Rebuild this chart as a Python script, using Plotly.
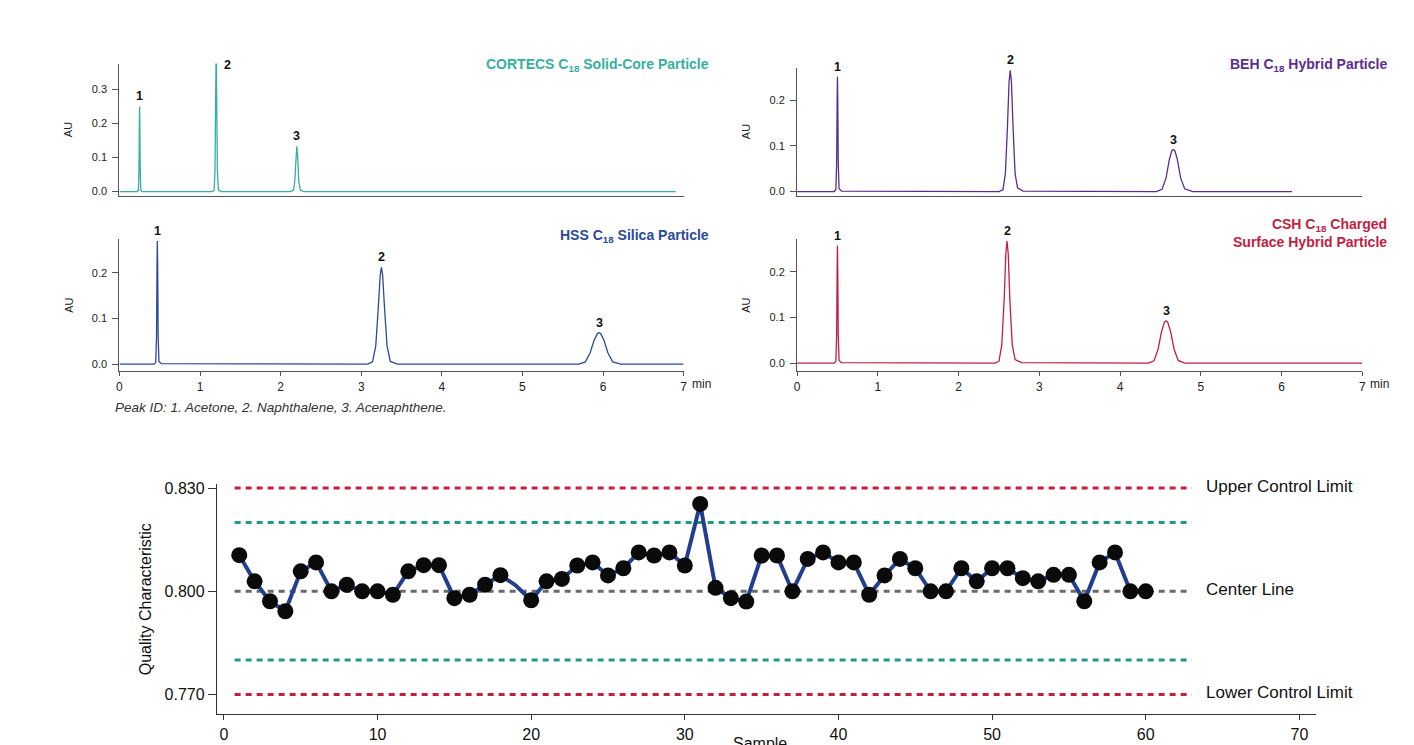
import plotly.graph_objects as go

# ---------------- DATA ----------------
# Chromatograms (time in min, absorbance in AU)
cortecs_t = [0.0, 0.22, 0.235, 0.242, 0.247, 0.25, 0.253, 0.258, 0.265, 0.28,
             1.15, 1.175, 1.185, 1.193, 1.2, 1.207, 1.215, 1.228, 1.26,
             2.12, 2.16, 2.175, 2.188, 2.2, 2.212, 2.225, 2.245, 2.29, 6.9]
cortecs_au = [0.0, 0.0, 0.004, 0.06, 0.2, 0.25, 0.2, 0.06, 0.004, 0.0,
              0.0, 0.004, 0.06, 0.26, 0.42, 0.26, 0.06, 0.004, 0.0,
              0.0, 0.004, 0.03, 0.1, 0.133, 0.1, 0.03, 0.004, 0.0, 0.0]

beh_t = [0.0, 0.46, 0.48, 0.49, 0.496, 0.5, 0.504, 0.51, 0.52, 0.55,
         2.5, 2.55, 2.58, 2.605, 2.625, 2.64, 2.655, 2.675, 2.7, 2.73, 2.8,
         4.45, 4.52, 4.57, 4.61, 4.64, 4.66, 4.68, 4.71, 4.75, 4.8, 4.9, 6.13]
beh_au = [0.0, 0.0, 0.004, 0.06, 0.2, 0.252, 0.2, 0.06, 0.006, 0.001,
          0.0, 0.004, 0.04, 0.14, 0.24, 0.266, 0.24, 0.14, 0.04, 0.008, 0.001,
          0.0, 0.005, 0.03, 0.07, 0.089, 0.092, 0.089, 0.07, 0.03, 0.006, 0.0, 0.0]

hss_t = [0.0, 0.43, 0.45, 0.46, 0.466, 0.47, 0.474, 0.48, 0.49, 0.52,
         3.08, 3.14, 3.18, 3.21, 3.235, 3.25, 3.265, 3.29, 3.32, 3.36, 3.45,
         5.7, 5.78, 5.84, 5.89, 5.93, 5.95, 5.97, 6.01, 6.06, 6.12, 6.22, 7.0]
hss_au = [0.0, 0.0, 0.004, 0.06, 0.22, 0.27, 0.22, 0.06, 0.006, 0.001,
          0.0, 0.005, 0.04, 0.12, 0.195, 0.212, 0.195, 0.12, 0.04, 0.006, 0.0,
          0.0, 0.005, 0.025, 0.053, 0.067, 0.069, 0.067, 0.053, 0.025, 0.005, 0.0, 0.0]

csh_t = [0.0, 0.46, 0.48, 0.49, 0.496, 0.5, 0.504, 0.51, 0.52, 0.55,
         2.45, 2.5, 2.535, 2.565, 2.585, 2.6, 2.615, 2.635, 2.665, 2.7, 2.78,
         4.35, 4.42, 4.47, 4.515, 4.55, 4.57, 4.59, 4.625, 4.67, 4.72, 4.8, 7.0]
csh_au = [0.0, 0.0, 0.004, 0.06, 0.2, 0.258, 0.2, 0.06, 0.006, 0.001,
          0.0, 0.004, 0.04, 0.14, 0.24, 0.268, 0.24, 0.14, 0.04, 0.008, 0.001,
          0.0, 0.005, 0.03, 0.07, 0.09, 0.093, 0.09, 0.07, 0.03, 0.006, 0.0, 0.0]

peak_names = ["1", "2", "3"]
cortecs_peak_t = [0.25, 1.2, 2.2]
cortecs_peak_h = [0.25, 0.42, 0.133]
beh_peak_t = [0.5, 2.64, 4.66]
beh_peak_h = [0.252, 0.266, 0.092]
hss_peak_t = [0.47, 3.25, 5.95]
hss_peak_h = [0.27, 0.212, 0.069]
csh_peak_t = [0.5, 2.6, 4.57]
csh_peak_h = [0.258, 0.268, 0.093]

time_ticks = [0, 1, 2, 3, 4, 5, 6, 7]

# Control chart
samples = list(range(1, 61))
quality = [0.8105, 0.8029, 0.7971, 0.7942, 0.8058, 0.8084, 0.8000, 0.8019, 0.8000, 0.8000,
           0.7990, 0.8058, 0.8076, 0.8076, 0.7980, 0.7990, 0.8019, 0.8047, 0.8017, 0.7974,
           0.8029, 0.8036, 0.8075, 0.8084, 0.8046, 0.8067, 0.8113, 0.8104, 0.8113, 0.8075,
           0.8254, 0.8010, 0.7980, 0.7970, 0.8104, 0.8104, 0.8000, 0.8094, 0.8113, 0.8084,
           0.8084, 0.7990, 0.8046, 0.8094, 0.8067, 0.8000, 0.8000, 0.8067, 0.8029, 0.8067,
           0.8067, 0.8038, 0.8029, 0.8048, 0.8048, 0.7971, 0.8084, 0.8113, 0.8000, 0.8000]
marker_shown = [1] * 18 + [0] + [1] * 41
limit_names = ["Upper Control Limit", "", "Center Line", "", "Lower Control Limit"]
limit_values = [0.830, 0.820, 0.800, 0.780, 0.770]
limit_span = [0.7, 63.0]
control_y_ticks = [0.770, 0.800, 0.830]
control_x_ticks = [0, 10, 20, 30, 40, 50, 60, 70]

# ---------------- STYLE ----------------
FONT = "Liberation Sans, Arial, sans-serif"
C_CORTECS = "#35B09C"
C_BEH = "#5B2D8E"
C_HSS = "#2A4A98"
C_CSH = "#C21D44"
C_RED = "#C41E3A"
C_TEAL = "#1F9A88"
C_GRAY = "#6A6A6A"
C_LINE = "#213F8E"
AXIS = "#555555"

W, H = 1414, 745
OFF_X, OFF_Y = 7, 8  # page body margin


def px_x(p):
    return (p - OFF_X) / W


def px_y(p):
    return 1 - (p - OFF_Y) / H


fig = go.Figure()

panels = [
    dict(t=cortecs_t, au=cortecs_au, color=C_CORTECS, pt=cortecs_peak_t, ph=cortecs_peak_h,
         xa="x", ya="y", xd=(116, 683), yd=(60, 193), yr=(-0.0117, 0.376), yt=[0.0, 0.1, 0.2, 0.3],
         xl=False, title="CORTECS C<sub>18</sub> Solid-Core Particle", tx=710, ty=61),
    dict(t=beh_t, au=beh_au, color=C_BEH, pt=beh_peak_t, ph=beh_peak_h,
         xa="x2", ya="y2", xd=(797, 1365), yd=(64, 193), yr=(-0.0087, 0.272), yt=[0.0, 0.1, 0.2],
         xl=False, title="BEH C<sub>18</sub> Hybrid Particle", tx=1392, ty=61),
    dict(t=hss_t, au=hss_au, color=C_HSS, pt=hss_peak_t, ph=hss_peak_h,
         xa="x3", ya="y3", xd=(116, 683), yd=(237, 370), yr=(-0.0152, 0.274), yt=[0.0, 0.1, 0.2],
         xl=True, title="HSS C<sub>18</sub> Silica Particle", tx=710, ty=234),
    dict(t=csh_t, au=csh_au, color=C_CSH, pt=csh_peak_t, ph=csh_peak_h,
         xa="x4", ya="y4", xd=(797, 1365), yd=(237, 370), yr=(-0.0174, 0.272), yt=[0.0, 0.1, 0.2],
         xl=True, title="CSH C<sub>18</sub> Charged<br>Surface Hybrid Particle", tx=1392, ty=231),
]

annotations = []
layout_axes = {}
for i, p in enumerate(panels):
    fig.add_trace(go.Scatter(x=p["t"], y=p["au"], mode="lines", xaxis=p["xa"], yaxis=p["ya"],
                             line=dict(color=p["color"], width=1.3), showlegend=False,
                             hoverinfo="skip"))
    sfx = "" if i == 0 else str(i + 1)
    layout_axes["xaxis" + sfx] = dict(
        domain=[px_x(p["xd"][0]), px_x(p["xd"][1])], range=[0, 7], anchor=p["ya"],
        showgrid=False, zeroline=False, showline=True, linecolor=AXIS, linewidth=1.2,
        ticks="outside" if p["xl"] else "", ticklen=4, tickcolor=AXIS,
        tickvals=time_ticks if p["xl"] else [], showticklabels=p["xl"],
        tickfont=dict(family=FONT, size=12, color="#222"), fixedrange=True)
    layout_axes["yaxis" + sfx] = dict(
        domain=[px_y(p["yd"][1]), px_y(p["yd"][0])], range=list(p["yr"]), anchor=p["xa"],
        showgrid=False, zeroline=False, showline=True, linecolor=AXIS, linewidth=1.2,
        ticks="outside", ticklen=6, tickcolor=AXIS, tickvals=p["yt"], tickformat=".1f",
        ticklabelstandoff=3,
        tickfont=dict(family=FONT, size=11, color="#222"),
        title=dict(text="AU", font=dict(family=FONT, size=11, color="#222"), standoff=16),
        fixedrange=True)
    # peak labels
    top = p["yr"][1]
    for name, t, h in zip(peak_names, p["pt"], p["ph"]):
        if h > top:
            annotations.append(dict(x=t, y=top, xref=p["xa"], yref=p["ya"], text="<b>%s</b>" % name,
                                    showarrow=False, xanchor="left", yanchor="top", xshift=6, yshift=8,
                                    font=dict(family=FONT, size=12.5, color="#111")))
        else:
            annotations.append(dict(x=t, y=h, xref=p["xa"], yref=p["ya"], text="<b>%s</b>" % name,
                                    showarrow=False, xanchor="center", yanchor="bottom", yshift=1,
                                    font=dict(family=FONT, size=12.5, color="#111")))
    # title
    annotations.append(dict(x=px_x(p["tx"]), y=px_y(p["ty"]), xref="paper", yref="paper",
                            text="<b>%s</b>" % p["title"], showarrow=False, xanchor="right",
                            yanchor="middle", align="right",
                            font=dict(family=FONT, size=14, color=p["color"])))
    if p["xl"]:
        annotations.append(dict(x=7, y=p["yr"][0], xref=p["xa"], yref=p["ya"], text="min",
                                showarrow=False, xanchor="left", yanchor="top", xshift=6, yshift=-4,
                                font=dict(family=FONT, size=12, color="#222")))

annotations.append(dict(x=px_x(110), y=px_y(407), xref="paper", yref="paper",
                        text="<i>Peak ID: 1. Acetone, 2. Naphthalene, 3. Acenaphthene.</i>",
                        showarrow=False, xanchor="left", yanchor="middle",
                        font=dict(family=FONT, size=13.5, color="#333")))

# ---------------- CONTROL CHART ----------------
limit_colors = [C_RED, C_TEAL, C_GRAY, C_TEAL, C_RED]
for name, v, c in zip(limit_names, limit_values, limit_colors):
    fig.add_trace(go.Scatter(x=limit_span, y=[v, v], mode="lines", xaxis="x5", yaxis="y5",
                             line=dict(color=c, width=3, dash="6px,5px"), showlegend=False,
                             hoverinfo="skip"))
    if name:
        annotations.append(dict(x=limit_span[1], y=v, xref="x5", yref="y5", text=name,
                                showarrow=False, xanchor="left", yanchor="middle", xshift=12, yshift=2,
                                font=dict(family=FONT, size=17, color="#111")))

fig.add_trace(go.Scatter(x=samples, y=quality, mode="lines", xaxis="x5", yaxis="y5",
                         line=dict(color=C_LINE, width=4), showlegend=False, hoverinfo="skip"))
fig.add_trace(go.Scatter(x=samples, y=quality, mode="markers", xaxis="x5", yaxis="y5",
                         marker=dict(color="#0a0a0a", size=16, opacity=marker_shown,
                                     line=dict(width=0)),
                         showlegend=False, hoverinfo="skip"))

layout_axes["xaxis5"] = dict(
    domain=[px_x(214), px_x(1318)], range=[-0.45, 71.05], anchor="y5",
    showgrid=False, zeroline=False, showline=True, linecolor="#333", linewidth=1.3,
    ticks="outside", ticklen=5, tickcolor="#333", tickvals=control_x_ticks,
    tickfont=dict(family=FONT, size=16, color="#111"), fixedrange=True)
layout_axes["yaxis5"] = dict(
    domain=[px_y(716), px_y(484)], range=[0.76423, 0.83115], anchor="x5",
    showgrid=False, zeroline=False, showline=True, linecolor="#333", linewidth=1.3,
    ticks="outside", ticklen=8, tickcolor="#333", tickvals=control_y_ticks, tickformat=".3f",
    tickfont=dict(family=FONT, size=16, color="#111"),
    title=dict(text="Quality Characteristic", font=dict(family=FONT, size=16, color="#111"),
               standoff=8),
    fixedrange=True)

annotations.append(dict(x=px_x(760), y=px_y(735), xref="paper", yref="paper", text="Sample",
                        showarrow=False, xanchor="center", yanchor="top",
                        font=dict(family=FONT, size=16, color="#111")))

fig.update_layout(
    width=W, height=H, margin=dict(l=0, r=0, t=0, b=0),
    paper_bgcolor="white", plot_bgcolor="white",
    font=dict(family=FONT), annotations=annotations, showlegend=False,
    **layout_axes)

fig.write_html("out.html", config={"displayModeBar": False})
